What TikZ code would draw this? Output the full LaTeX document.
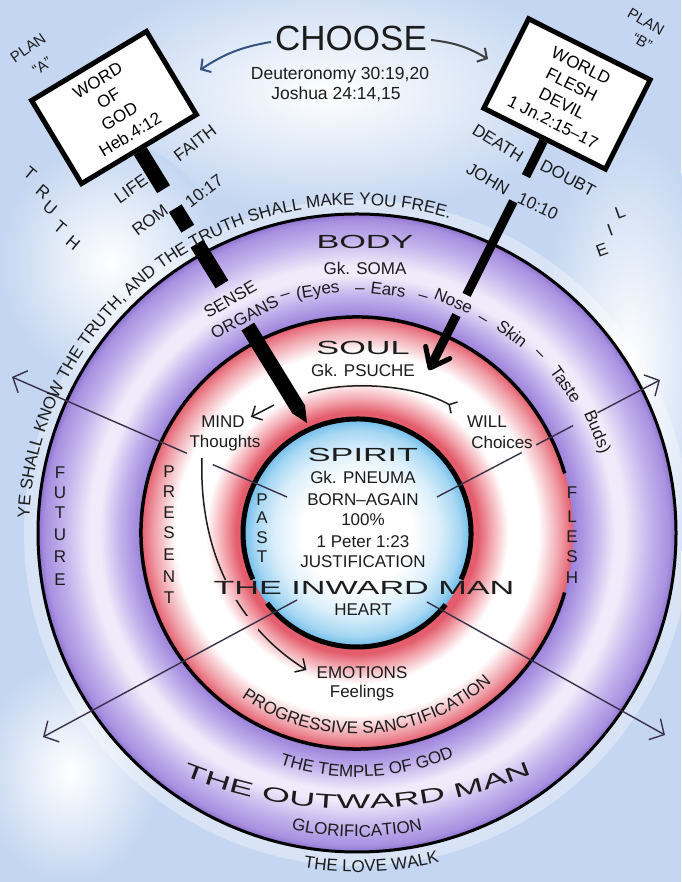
\documentclass[tikz,border=0pt]{standalone}
\usepackage{fontspec}
\setmainfont{Liberation Sans}
\newfontfamily\widefont[FakeStretch=1.8]{Liberation Sans}
\usepackage{tikz}
\usetikzlibrary{calc, arrows.meta, decorations.text}
\definecolor{skycolor}{HTML}{C4D6F1}
\definecolor{inkcolor}{HTML}{1C1C1C}
\definecolor{raycolor}{HTML}{3B3049}
\definecolor{choosecolor}{HTML}{34547E}
\definecolor{bodyA}{HTML}{9A80DA}
\definecolor{bodyB}{HTML}{C3B2EC}
\definecolor{bodyC}{HTML}{F0EBFA}
\definecolor{bodyD}{HTML}{A890E0}
\definecolor{bodyE}{HTML}{8D72D0}
\definecolor{soulA}{HTML}{E35D6C}
\definecolor{soulB}{HTML}{F3A6AE}
\definecolor{soulC}{HTML}{F0A0A9}
\definecolor{spiritA}{HTML}{DCEFFB}
\definecolor{spiritB}{HTML}{A6D7F3}
\definecolor{spiritC}{HTML}{6DBBEA}
\newcommand{\ringfont}{\fontsize{17}{20}\selectfont\color{inkcolor}}
\newcommand{\bigringfont}{\widefont\fontsize{20}{24}\selectfont\color{inkcolor}}
\pgfdeclareradialshading{bodyshade}{\pgfpoint{0bp}{0bp}}{color(0bp)=(white); color(16.9bp)=(bodyA); color(18.6bp)=(bodyB); color(20.2bp)=(bodyC); color(21bp)=(bodyC); color(23bp)=(bodyB); color(24.5bp)=(bodyD); color(25bp)=(bodyE); color(50bp)=(bodyE)}
\pgfdeclareradialshading{soulshade}{\pgfpoint{0bp}{0bp}}{color(0bp)=(white); color(13bp)=(soulA); color(14bp)=(soulA); color(15.5bp)=(soulB); color(17.5bp)=(white); color(21bp)=(white); color(23.5bp)=(soulC); color(25bp)=(soulA); color(50bp)=(soulA)}
\pgfdeclareradialshading{spiritshade}{\pgfpoint{0bp}{0bp}}{color(0bp)=(white); color(12bp)=(white); color(18bp)=(spiritA); color(22.5bp)=(spiritB); color(25bp)=(spiritC); color(50bp)=(spiritC)}

\begin{document}
\begin{tikzpicture}[x=1pt, y=1pt,
  lbl/.style={font=\fontsize{17}{20}\selectfont, text=inkcolor, inner sep=1pt},
  lblsmall/.style={lbl, font=\fontsize{15}{18}\selectfont},
  widetxt/.style={font=\widefont\fontsize{19}{22}\selectfont, text=inkcolor, inner sep=1pt},
  signbox/.style={draw=black, line width=5pt, fill=white, align=center, inner sep=0pt, font=\fontsize{17}{21}\selectfont},
  raybase/.style={draw=raycolor, line width=1.4pt},
  rayend/.style={raybase, -{Straight Barb[length=11pt, width=24pt]}},
  smallarrow/.style={draw=inkcolor, line width=1.5pt, -{Straight Barb[length=8pt, width=16pt]}},
  postbarA/.style={draw=black, line width=15pt},
  postbarB/.style={draw=black, line width=9pt},
  arctext/.style={decorate, decoration={text along path, text align=center}}]

  \useasboundingbox (0,0) rectangle (681,882);
  \fill[skycolor] (0,0) rectangle (681,882);
  % clouds
  \shade[inner color=white, outer color=skycolor] (330,790) ellipse [x radius=260, y radius=120];
  \shade[inner color=white, outer color=skycolor] (630,520) ellipse [x radius=90, y radius=230];
  \shade[inner color=white, outer color=skycolor] (110,620) ellipse [x radius=110, y radius=120];
  \shade[inner color=white, outer color=skycolor] (70,110) ellipse [x radius=90, y radius=110];

  % the three rings
  \coordinate (ctr) at (357,349);
  \draw[white, opacity=0.35, line width=14pt] (ctr) circle [radius=326];
  \shade[shading=bodyshade] (ctr) circle [radius=319];
  \shade[shading=soulshade] (ctr) circle [radius=216];
  \shade[shading=spiritshade] (ctr) circle [radius=114];
  \draw[line width=3pt] (ctr) circle [radius=319];
  \draw[line width=3.5pt] ($(ctr)+(16:216)$) arc [start angle=16, end angle=344, radius=216];
  \draw[line width=5pt] ($(ctr)+(-24:114)$) arc [start angle=-24, end angle=204, radius=114];
  \draw[line width=5pt] ($(ctr)+(218:114)$) arc [start angle=218, end angle=321, radius=114];

  % rays
  \coordinate (ulIn) at (287,385);
  \coordinate (ulTip) at (12,505);
  \coordinate (urIn) at (437,385);
  \coordinate (urTip) at (660,502);
  \coordinate (llIn) at (297,282);
  \coordinate (llTip) at (43,145);
  \coordinate (lrIn) at (427,280);
  \coordinate (lrTip) at (665,147);
  \draw[raybase] (ulIn) -- ($(ulIn)!0.27!(ulTip)$);
  \draw[rayend] ($(ulIn)!0.364!(ulTip)$) -- (ulTip);
  \draw[raybase] (urIn) -- ($(urIn)!0.38!(urTip)$);
  \draw[raybase] ($(urIn)!0.445!(urTip)$) -- ($(urIn)!0.61!(urTip)$);
  \draw[rayend] ($(urIn)!0.72!(urTip)$) -- (urTip);
  \draw[rayend] (llIn) -- (llTip);
  \draw[rayend] (lrIn) -- (lrTip);

  % header
  \node[lbl, font=\fontsize{35}{40}\selectfont, inner sep=4pt] (choose) at (351,844) {CHOOSE};
  \node[lbl, font=\fontsize{17.5}{20}\selectfont] (deut) at (340,807) {Deuteronomy 30:19,20};
  \node[lbl, font=\fontsize{17.5}{20}\selectfont] (josh) at (336,788) {Joshua 24:14,15};
  \coordinate (toA) at (200,812);
  \coordinate (toB) at (488,823);
  \draw[choosecolor, line width=2pt, -{Straight Barb[length=7pt, width=16pt]}] ([yshift=-4pt]choose.west) to[bend right=12] (toA);
  \draw[inkcolor!85, line width=2pt, -{Straight Barb[length=7pt, width=16pt]}] ([yshift=-2pt]choose.east) to[bend left=12] (toB);

  % plan A sign and post
  \node[signbox, rotate=31, minimum width=134pt, minimum height=97pt] (signA) at (114,774.5) {WORD\\OF\\GOD\\Heb.4:12};
  \coordinate (tipA) at (307,459);
  \foreach \s/\e in {0/0.14, 0.21/0.285, 0.34/0.49, 0.645/0.95}
    \draw[postbarA] ($(signA.south)!\s!(tipA)$) -- ($(signA.south)!\e!(tipA)$);
  \coordinate (pA) at ($(signA.south)!0.95!(tipA)$);
  \fill ($(pA)!7.5pt!90:(tipA)$) -- (tipA) -- ($(pA)!7.5pt!-90:(tipA)$) -- cycle;
  \node[lblsmall, rotate=35] (planA) at (28,834) {PLAN};
  \node[lblsmall, rotate=35] (planAq) at (42,816) {“A”};
  \node[lbl, rotate=35] (life) at (131,693) {LIFE};
  \node[lbl, rotate=37] (faith) at (195,739) {FAITH};
  \node[lbl, rotate=37] (rom) at (150,662) {ROM};
  \node[lbl, rotate=37] (romv) at (204,691) {10:17};
  \foreach \ch/\xx/\yy [count=\i] in {T/30/709, R/43/690, U/50/674, T/60/655, H/73/639}
    \node[lbl, rotate=-40] (truth\i) at (\xx,\yy) {\ch};

  % plan B sign and post
  \node[signbox, rotate=-26.6, minimum width=136pt, minimum height=100pt] (signB) at (567,788) {WORLD\\FLESH\\DEVIL\\1 Jn.2:15–17};
  \coordinate (tipB) at (430,514);
  \foreach \s/\e in {0/0.155, 0.266/0.678, 0.767/0.985}
    \draw[postbarB] ($(signB.south)!\s!(tipB)$) -- ($(signB.south)!\e!(tipB)$);
  \draw[black, line width=5pt, line cap=round, line join=round]
    ($(tipB)!22pt!38:(signB.south)$) -- (tipB) -- ($(tipB)!22pt!-38:(signB.south)$);
  \node[lblsmall, rotate=-30] (planB) at (646,860) {PLAN};
  \node[lblsmall, rotate=-30] (planBq) at (642,840) {“B”};
  \node[lbl, rotate=-32] (death) at (498,739) {DEATH};
  \node[lbl, rotate=-28] (doubt) at (568,704) {DOUBT};
  \node[lbl, rotate=-30] (john) at (488,703) {JOHN};
  \node[lbl, rotate=-25] (johnv) at (538,676) {10:10};
  \foreach \ch/\xx/\yy [count=\i] in {L/620/670, I/610/652, E/602/632}
    \node[lbl, rotate=20] (lie\i) at (\xx,\yy) {\ch};

  % arc texts
  \path[arctext, decoration={text={|\ringfont|YE SHALL KNOW THE TRUTH, AND THE TRUTH SHALL MAKE YOU FREE.}}]
    ($(ctr)+(185:328)$) arc [start angle=185, end angle=66, radius=328];
  \path[arctext, decoration={text={|\ringfont|PROGRESSIVE SANCTIFICATION}}]
    ($(ctr)+(229:201)$) arc [start angle=229, end angle=318, radius=201];
  \path[arctext, decoration={text={|\ringfont|THE TEMPLE OF GOD}}]
    ($(ctr)+(245:244)$) arc [start angle=245, end angle=300, radius=244];
  \path[arctext, decoration={text={|\ringfont|GLORIFICATION}}]
    ($(ctr)+(240:304)$) arc [start angle=240, end angle=300, radius=304];
  \path[arctext, decoration={text={|\ringfont|THE LOVE WALK}}]
    ($(ctr)+(250:339)$) arc [start angle=250, end angle=295, radius=339];
  \coordinate (outerc) at (355,532);
  \path[arctext, decoration={text={|\bigringfont|THE OUTWARD MAN}}]
    ($(outerc)+(240.3:459)$) arc [start angle=240.3, end angle=300.3, radius=459];

  % body ring
  \node[widetxt] (body) at (365,640) {BODY};
  \node[lbl] (soma) at (365,614) {Gk. SOMA};
  \node[lbl, rotate=30] (sense) at ($(ctr)+(118.5:266)$) {SENSE};
  \foreach \w/\a/\r [count=\i] in {ORGANS/117.5/242, –/106.8/249, {(Eyes}/99.2/245, –/89.3/244, Ears/82.7/244,
      –/74.4/246, Nose/67.4/250, –/59.5/248, Skin/52.1/251, –/44.4/256, Taste/35.4/255, {Buds)}/22.8/260}
    \node[lbl, text height=12pt, text depth=3pt, rotate=\a-90] (organ\i) at ($(ctr)+(\a:\r)$) {\w};
  \foreach \ch/\yy [count=\i] in {F/409, U/389, T/369, U/347, R/325, E/302}
    \node[lbl] (future\i) at (60,\yy) {\ch};

  % soul ring
  \node[widetxt] (soul) at (363,534) {SOUL};
  \node[lbl] (psuche) at (363,512) {Gk. PSUCHE};
  \node[lbl] (mind) at (223,460) {MIND};
  \node[lbl] (thoughts) at (225,439) {Thoughts};
  \node[lbl] (will) at (487,460) {WILL};
  \node[lbl] (choices) at (502,440) {Choices};
  \node[lbl] (emotions) at (362,209) {EMOTIONS};
  \node[lbl] (feelings) at (362,189) {Feelings};
  \foreach \ch/\yy [count=\i] in {P/410, R/390, E/369, S/349, E/327, N/305, T/284}
    \node[lbl] (present\i) at (169,\yy) {\ch};
  \foreach \ch/\yy [count=\i] in {F/389, L/365, E/345, S/325, H/304}
    \node[lbl] (flesh\i) at (572,\yy) {\ch};
  \coordinate (mindTail) at (274,477);
  \draw[smallarrow] (mindTail) -- ([xshift=5pt, yshift=5pt]mind.east);
  \coordinate (willTail) at (308,489);
  \coordinate (willTip) at (455,474);
  \draw[inkcolor, line width=1.5pt, -{Straight Barb[reversed, length=6pt, width=13pt]}]
    (willTail) .. controls (340,500) and (410,500) .. (willTip);
  \coordinate (emoTail) at (202,424);
  \begin{scope}[even odd rule]
    \clip (0,0) rectangle (681,882) (205,282) rectangle (240,302) (240,250) rectangle (258,266);
    \draw[smallarrow] (emoTail) .. controls (199,340) and (230,260) .. ([xshift=-9pt, yshift=3pt]emotions.west);
  \end{scope}

  % spirit
  \node[widetxt] (spirit) at (363,427) {SPIRIT};
  \node[lbl] (pneuma) at (363,405) {Gk. PNEUMA};
  \node[lbl] (born) at (363,382) {BORN–AGAIN};
  \node[lbl] (pct) at (363,362) {100\%};
  \node[lbl] (peter) at (363,340) {1 Peter 1:23};
  \node[lbl] (justif) at (363,320) {JUSTIFICATION};
  \node[widetxt] (inward) at (364,294) {THE INWARD MAN};
  \node[lbl] (heart) at (363,272) {HEART};
  \foreach \ch/\yy [count=\i] in {P/382, A/364, S/344, T/325}
    \node[lbl] (past\i) at (262,\yy) {\ch};
\end{tikzpicture}
\end{document}
